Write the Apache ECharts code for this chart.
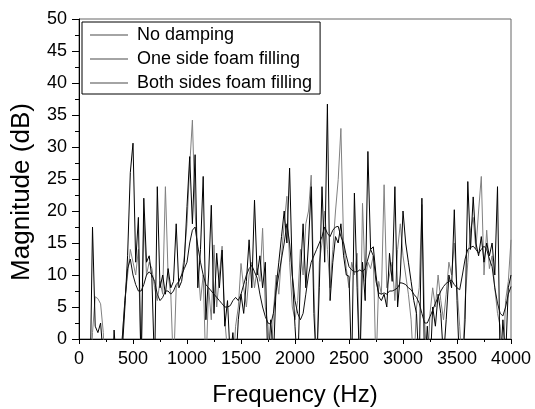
<!DOCTYPE html>
<html>
<head>
<meta charset="utf-8">
<script src="https://cdn.jsdelivr.net/npm/echarts@6/dist/echarts.min.js"></script>
<style>
html,body{margin:0;padding:0;background:#fff;}
#chart{width:535px;height:409px;}
</style>
</head>
<body>
<div id="chart"></div>
<script>
// Sampling grid: 0 to 4000 Hz in 25 Hz steps
const freqStart = 0, freqStep = 25, freqCount = 161;
const freqs = Array.from({length: freqCount}, (_, i) => freqStart + i * freqStep);

const xTicks = [0, 500, 1000, 1500, 2000, 2500, 3000, 3500, 4000];
const yTicks = [0, 5, 10, 15, 20, 25, 30, 35, 40, 45, 50];

const seriesNames = ['No damping', 'One side foam filling', 'Both sides foam filling'];

// No damping (black, spiky)
const noDamping = [
  -10, -10, -10, -10,
  -10, 17.5, 2, 1,
  2.5, -3, -10, -10,
  -10, 1.4, -5, -10,
  -2, 5, 13, 26,
  30.6, 12, 19, -5,
  22, 12, 13, 9.5,
  -5, 23.8, 8, 10,
  7, 11, 8, 9,
  18, 8, 9, 12,
  20.7, 28.5, 18, 28.8,
  8, 14, 25.4, 3,
  10, 20.9, 4, 13.4,
  8, 13.9, 2, 6,
  -3, 1, -5, 3,
  7, 4, 9, 15.5,
  8, 21.7, 10, 13,
  8, 12, -5, 3,
  -3, 8, 12, 16,
  20, 15, 26.7, 10,
  2, -5, 10, 18,
  8, 15, 23.8, 4,
  -5, 8, 23.8, 12,
  36.7, 6, 12, 16,
  15, 18, 13, 10,
  9.8, -5, 22.8, 8,
  -5, 12, 6, 29.3,
  14, 14.4, 10, 6.6,
  6, 7, 5, 13.4,
  9, 23.8, 5, 10,
  20, 15, 12, 9,
  6, 4, -5, 22,
  -5, 2, -5, 5,
  2, 7, 4, -3,
  3, 10, 8, 20.2,
  6, -5, -5, 3,
  24.6, 14, 22.2, 15,
  13, 16, 12, 15,
  13, 15, 10, 23.8,
  -5, 3, -3, 8,
  10
];

// One side foam filling (grey, spiky)
const oneSide = [
  -10, -10, -10, -10,
  -10, 1, 6.6, 6.3,
  5.5, 1, -10, -10,
  -10, -10, -10, -10,
  0, 6, 10, 14,
  12, 10, 14, -5,
  19, 10, 12, 11,
  8, 6, 9, 7,
  23.8, 10, 7, -5,
  8, 9, 10, 13,
  18, 27, 34.2, 20,
  12, 6, 10, -5,
  8, 3, 14.7, 5,
  10, 14.5, 3, -2,
  -5, -5, 2, 5,
  11.8, 8, 5, 10,
  12, 8, 11, 9,
  17.3, 5, 2, -5,
  4, 10, 7, 13,
  18, 22.3, 12, 5,
  3, 6, 14, 10,
  18, 20, 25.6, 8,
  -5, 12, 15, 20,
  14, 8, 14, 20,
  24.9, 32.9, 15, 11,
  8, 12, 10, 13.4,
  -5, 21.2, 9, 12,
  11, 13, -5, 9,
  7, 24.1, 8, 10,
  12, 6, 14, 18,
  13, 10, 7, 3,
  -5, 5, 8, 21,
  3, -5, 4, 8,
  5, 10, 6, 3,
  7, 12, 10, 15,
  8, 2, -5, 6,
  12, 17, 19, 14,
  20, 25.4, 10, 17,
  11, 13, 8, 4,
  2, -5, 6, 9,
  15.5
];

// Both sides foam filling (black, smooth)
const bothSides = [
  -10, -10, -10, -10,
  -10, -10, -10, -10,
  -10, -10, -10, -10,
  -10, -10, -10, -3,
  0, 6, 11, 12.5,
  10, 8.5, 7.5, 7.5,
  8.5, 10, 10.5, 10,
  9, 7, 6, 6.5,
  7.5, 7.5, 7, 7.5,
  8.5, 9, 10, 11,
  12, 15, 17, 17.5,
  14.5, 12, 10, 8.5,
  8, 7.5, 7, 6.5,
  6, 5.5, 5, 5,
  5.2, 6, 6.5, 6,
  7, 8.5, 10, 11,
  11.5, 10.5, 9.5, 7,
  5, 3.5, 2.5, 2.3,
  4, 7.5, 10, 12.5,
  15, 18, 15, 10,
  6, 4, 3, 4,
  7, 10, 12, 13,
  14, 15, 16, 17.5,
  16.5, 16, 17, 17.5,
  17.6, 16, 15, 13,
  11.3, 10.8, 10.5, 10.5,
  10.8, 10.5, 11, 12.5,
  14, 13, 9, 7.2,
  7, 7.2, 7, 7.5,
  7.5, 7.7, 8, 8.8,
  8.7, 8.5, 8, 7.7,
  7, 6.5, 5.6, 4,
  2.5, 2.5, 3.5, 4.5,
  5.6, 6.5, 7.5, 8.2,
  8.7, 9, 9.2, 8.5,
  8, 7.7, 10, 12.5,
  14, 14.3, 14.5, 14,
  13.4, 14, 14.5, 14,
  12.5, 11.3, 8, 5.6,
  4, 3.6, 5, 7,
  8.2
];

const pair = arr => freqs.map((f, i) => [f, arr[i]]);
const FONT = 'Liberation Sans, Arial, Helvetica, sans-serif';

const chart = echarts.init(document.getElementById('chart'), null, {renderer: 'canvas'});
chart.setOption({
  animation: false,
  backgroundColor: '#fff',
  grid: {
    left: 79, right: 24, top: 19, bottom: 70,
    show: true, borderColor: '#666', borderWidth: 1,
    containLabel: false, outerBoundsMode: 'none'
  },
  legend: {
    orient: 'vertical',
    left: 82, top: 22,
    padding: [4, 8, 2, 8],
    icon: 'rect',
    itemWidth: 38, itemHeight: 1, itemGap: 6,
    borderColor: '#000', borderWidth: 1,
    backgroundColor: '#fff',
    textStyle: {fontFamily: FONT, fontSize: 18, lineHeight: 17, color: '#000', padding: [0, 0, 0, 4]},
    data: seriesNames.map(n => ({name: n, itemStyle: {color: '#4a4a4a'}}))
  },
  xAxis: {
    type: 'value',
    min: xTicks[0], max: xTicks[xTicks.length - 1], interval: xTicks[1] - xTicks[0],
    name: 'Frequency (Hz)', nameLocation: 'middle', nameGap: 44,
    nameTextStyle: {fontFamily: FONT, fontSize: 24, color: '#000'},
    axisLine: {onZero: false, lineStyle: {color: '#000', width: 1}},
    axisTick: {show: true, inside: false, length: 5, lineStyle: {color: '#000'}},
    minorTick: {show: true, splitNumber: 2, length: 3, lineStyle: {color: '#000'}},
    axisLabel: {fontFamily: FONT, fontSize: 18, color: '#000', margin: 11, formatter: v => String(v)},
    splitLine: {show: false}
  },
  yAxis: {
    type: 'value',
    min: yTicks[0], max: yTicks[yTicks.length - 1], interval: yTicks[1] - yTicks[0],
    name: 'Magnitude (dB)', nameLocation: 'middle', nameGap: 44, nameRotate: 90,
    nameTextStyle: {fontFamily: FONT, fontSize: 26, color: '#000', padding: [0, 26, 0, 0]},
    axisLine: {onZero: false, lineStyle: {color: '#000', width: 1}},
    axisTick: {show: true, inside: false, length: 7, lineStyle: {color: '#000'}},
    minorTick: {show: true, splitNumber: 2, length: 4, lineStyle: {color: '#000'}},
    axisLabel: {fontFamily: FONT, fontSize: 18, color: '#000', margin: 12, formatter: v => String(v)},
    splitLine: {show: false}
  },
  series: [
    {name: seriesNames[1], type: 'line', data: pair(oneSide), symbol: 'none', clip: true,
     lineStyle: {color: '#808080', width: 1}, itemStyle: {color: '#808080'}},
    {name: seriesNames[0], type: 'line', data: pair(noDamping), symbol: 'none', clip: true,
     lineStyle: {color: '#000', width: 1}, itemStyle: {color: '#000'}},
    {name: seriesNames[2], type: 'line', data: pair(bothSides), symbol: 'none', clip: true,
     lineStyle: {color: '#111', width: 1}, itemStyle: {color: '#111'}}
  ]
});
</script>
</body>
</html>
